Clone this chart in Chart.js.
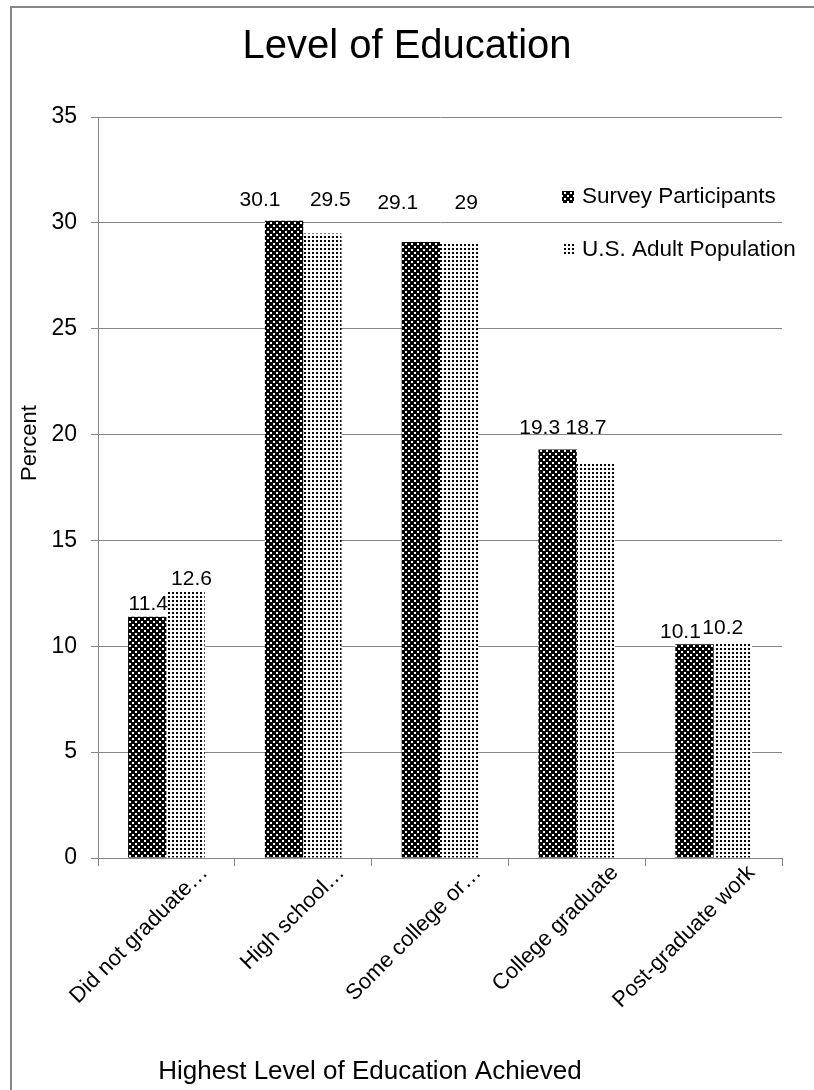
<!DOCTYPE html>
<html>
<head>
<meta charset="utf-8">
<script src="https://cdn.jsdelivr.net/npm/chart.js@4"></script>
<style>
  html, body { margin: 0; padding: 0; background: #fff; }
  canvas { display: block; }
</style>
</head>
<body>
<canvas id="eduChart" width="814" height="1090"></canvas>
<script>
const chartTitle = "Level of Education";
const xTitle = "Highest Level of Education Achieved";
const yTitle = "Percent";

const categories = [
  "Did not graduate…",
  "High school…",
  "Some college or…",
  "College graduate",
  "Post-graduate work"
];
const seriesNames = ["Survey Participants", "U.S. Adult Population"];
const surveyValues = [11.4, 30.1, 29.1, 19.3, 10.1];
const usValues = [12.6, 29.5, 29, 18.7, 10.2];
const yTicks = [0, 5, 10, 15, 20, 25, 30, 35];

const FONT = "'Liberation Sans', Arial, sans-serif";
const GRID = "#868686";

// value labels were nudged by hand in the original (dx, dy in px)
const labelNudge = [
  [[1, 0], [-24, -9], [-23, -27], [-18, -9], [-14, 0]],
  [[6, 0], [8, -21], [7, -29], [-10, -22], [-10, -2]]
];

function checkerPattern() {
  const c = document.createElement("canvas");
  c.width = 6; c.height = 6;
  const g = c.getContext("2d");
  g.fillStyle = "#000";
  g.fillRect(0, 0, 6, 6);
  g.fillStyle = "#fff";
  g.fillRect(0, 0, 2, 2);
  g.fillRect(3, 3, 2, 2);
  return g.createPattern(c, "repeat");
}

function dotPattern() {
  const c = document.createElement("canvas");
  c.width = 4; c.height = 4;
  const g = c.getContext("2d");
  g.fillStyle = "#fff";
  g.fillRect(0, 0, 4, 4);
  g.fillStyle = "#000";
  g.fillRect(0, 0, 2, 2);
  return g.createPattern(c, "repeat");
}

const fills = [checkerPattern(), dotPattern()];

// frame, titles, legend and value labels
const extras = {
  id: "extras",
  beforeDraw(chart) {
    const ctx = chart.ctx;
    ctx.save();
    ctx.fillStyle = "#fff";
    ctx.fillRect(0, 0, chart.width, chart.height);
    ctx.strokeStyle = GRID;
    ctx.lineWidth = 2;
    ctx.beginPath();
    ctx.moveTo(11, chart.height);
    ctx.lineTo(11, 7);
    ctx.lineTo(chart.width, 7);
    ctx.stroke();
    ctx.restore();
  },
  afterDatasetsDraw(chart) {
    const ctx = chart.ctx;
    ctx.save();
    ctx.fillStyle = "#000";
    ctx.font = "21px " + FONT;
    ctx.textAlign = "center";
    ctx.textBaseline = "middle";
    chart.data.datasets.forEach((ds, i) => {
      chart.getDatasetMeta(i).data.forEach((bar, j) => {
        const n = labelNudge[i][j];
        ctx.fillText(String(ds.data[j]), bar.x + n[0], bar.y - 12 + n[1]);
      });
    });
    ctx.restore();
  },
  afterDraw(chart) {
    const ctx = chart.ctx;
    ctx.save();
    ctx.fillStyle = "#000";
    ctx.textAlign = "center";
    ctx.textBaseline = "middle";

    ctx.font = "40px " + FONT;
    ctx.fillText(chartTitle, 407, 47);

    ctx.font = "26px " + FONT;
    ctx.fillText(xTitle, 370, 1072);

    ctx.font = "22px " + FONT;
    ctx.save();
    ctx.translate(30, 443);
    ctx.rotate(-Math.PI / 2);
    ctx.fillText(yTitle, 0, 0);
    ctx.restore();

    // legend
    ctx.font = "22.5px " + FONT;
    ctx.textAlign = "left";
    chart.data.datasets.forEach((ds, i) => {
      const y = 197 + i * 53;
      ctx.fillStyle = ds.backgroundColor;
      ctx.fillRect(562, y - 6, 12, 12);
      ctx.fillStyle = "#000";
      ctx.fillText(ds.label, 582, y);
    });
    ctx.restore();
  }
};

new Chart(document.getElementById("eduChart"), {
  type: "bar",
  data: {
    labels: categories,
    datasets: [
      {
        label: seriesNames[0],
        data: surveyValues,
        backgroundColor: fills[0],
        borderWidth: 0,
        barPercentage: 1,
        categoryPercentage: 0.56
      },
      {
        label: seriesNames[1],
        data: usValues,
        backgroundColor: fills[1],
        borderWidth: 0,
        barPercentage: 1,
        categoryPercentage: 0.56
      }
    ]
  },
  options: {
    responsive: false,
    animation: false,
    devicePixelRatio: 1,
    layout: { padding: { left: 0, top: 117, right: 32, bottom: 0 } },
    plugins: {
      legend: { display: false },
      title: { display: false },
      tooltip: { enabled: false }
    },
    scales: {
      y: {
        min: yTicks[0],
        max: yTicks[yTicks.length - 1],
        afterBuildTicks: s => { s.ticks = yTicks.map(v => ({ value: v })); },
        afterFit: s => { s.width = 98; },
        ticks: {
          color: "#000",
          font: { family: FONT, size: 23 },
          padding: 14
        },
        grid: { color: GRID, lineWidth: 1, tickLength: 7 },
        border: { color: GRID, width: 1 }
      },
      x: {
        offset: true,
        afterFit: s => { s.height = 232; },
        ticks: {
          color: "#000",
          font: { family: FONT, size: 22 },
          minRotation: 45,
          maxRotation: 45,
          autoSkip: false,
          labelOffset: 38,
          padding: -6
        },
        grid: {
          offset: true,
          drawOnChartArea: false,
          color: GRID,
          tickLength: 8
        },
        border: { color: GRID, width: 1 }
      }
    }
  },
  plugins: [extras]
});
</script>
</body>
</html>
